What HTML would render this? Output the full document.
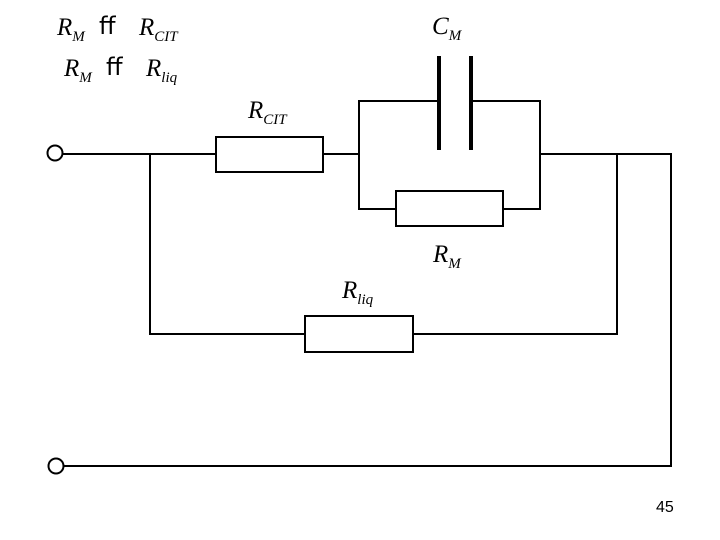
<!DOCTYPE html>
<html><head><style>
body{margin:0;background:#fff;width:720px;height:540px;overflow:hidden;position:relative}
.t{position:absolute;font-family:"Liberation Serif",serif;font-style:italic;font-size:25px;line-height:1}
.t sub{font-size:15px;vertical-align:-6px}
.f{position:absolute;font-family:"DejaVu Sans","Liberation Sans",sans-serif;font-size:24px;line-height:1}
</style></head><body>
<svg width="720" height="540" style="position:absolute;left:0;top:0" fill="none" stroke="#000" stroke-width="2">
<circle cx="55" cy="153" r="7.5" fill="#fff"/>
<circle cx="56" cy="466" r="7.5" fill="#fff"/>
<polyline points="63,154 216,154"/>
<rect x="216" y="137" width="107" height="35"/>
<polyline points="323,154 359,154"/>
<polyline points="439,101 359,101 359,209 396,209"/>
<rect x="396" y="191" width="107" height="35"/>
<polyline points="503,209 540,209 540,101 471,101"/>
<line x1="439" y1="56" x2="439" y2="150" stroke-width="4"/>
<line x1="471" y1="56" x2="471" y2="150" stroke-width="4"/>
<polyline points="540,154 671,154 671,466 64,466"/>
<polyline points="150,154 150,334 305,334"/>
<rect x="305" y="316" width="108" height="36"/>
<polyline points="413,334 617,334 617,154"/>
</svg>
<div class="t" style="left:57px;top:15px">R<sub>M</sub></div>
<div class="f" style="left:99px;top:14px">ff</div>
<div class="t" style="left:139px;top:15px">R<sub>CIT</sub></div>
<div class="t" style="left:64px;top:56px">R<sub>M</sub></div>
<div class="f" style="left:106px;top:55px">ff</div>
<div class="t" style="left:146px;top:56px">R<sub>liq</sub></div>
<div class="t" style="left:432px;top:14px">C<sub>M</sub></div>
<div class="t" style="left:248px;top:98px">R<sub>CIT</sub></div>
<div class="t" style="left:433px;top:242px">R<sub>M</sub></div>
<div class="t" style="left:342px;top:278px">R<sub>liq</sub></div>
<div style="position:absolute;left:656px;top:499px;font-family:'Liberation Sans',sans-serif;font-size:16px">45</div>
</body></html>
